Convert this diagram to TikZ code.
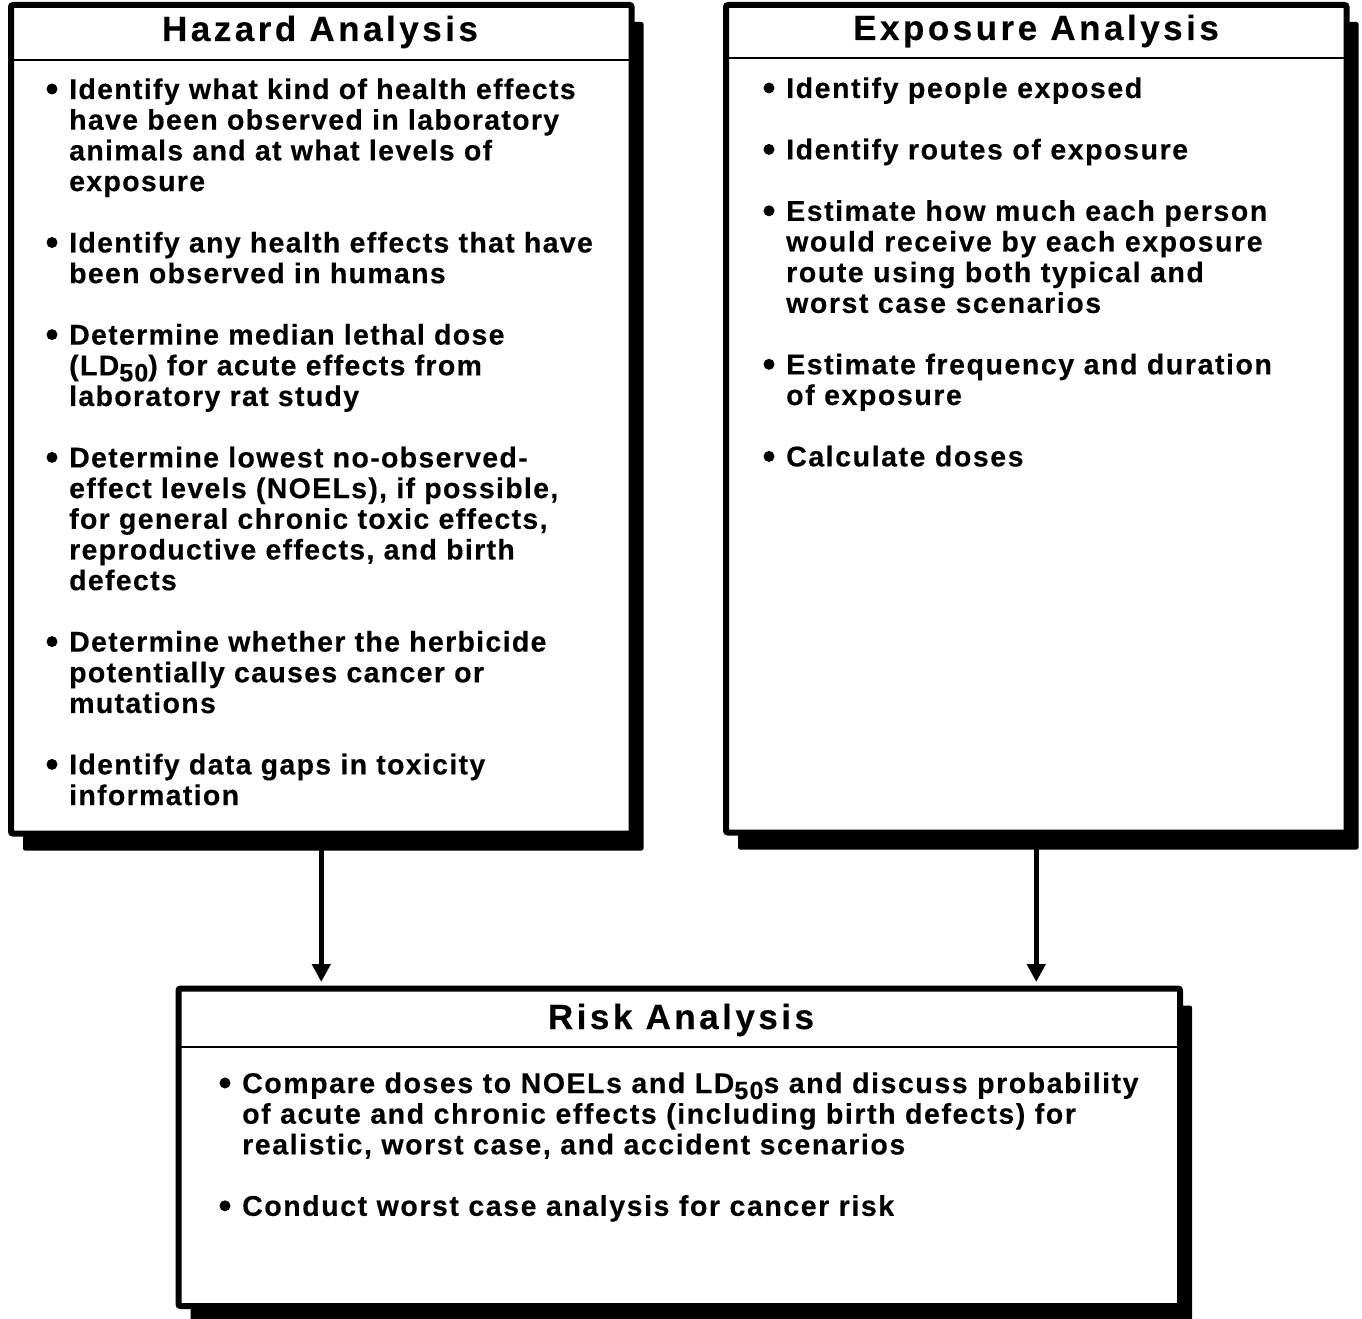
\documentclass[tikz,border=0pt]{standalone}
\usepackage{fontspec}
\setmainfont{Liberation Sans}
\newfontfamily\bodyfont[LetterSpace=5.5,FakeBold=0.3]{Liberation Sans Bold}
\newfontfamily\hazfont[LetterSpace=4.6,FakeBold=0.3]{Liberation Sans Bold}
\newfontfamily\titlefont[LetterSpace=10,FakeBold=0.3]{Liberation Sans Bold}
\usetikzlibrary{arrows.meta,shadows}
\newcommand\blines[1]{\vtop{\baselineskip=30.7pt\lineskiplimit=-100pt\lineskip=0pt\halign{##\hfil\cr#1\crcr}}}
\newcommand\subn[1]{\raisebox{-6pt}{\fontsize{25}{25}\selectfont #1}}
\tikzset{
  panel/.style={draw=black, line width=6pt, fill=white, rounded corners=2pt,
    drop shadow={shadow xshift=12pt, shadow yshift=-17pt, opacity=1, fill=black},
    inner sep=0pt, outer sep=0pt},
  sepline/.style={line width=2pt},
  ttl/.style={font=\titlefont\fontsize{35pt}{35pt}\selectfont, inner sep=0pt, anchor=base},
  body/.style={font=\bodyfont\fontsize{28.5pt}{30.7pt}\selectfont, inner sep=0pt, anchor=base west},
  hazbody/.style={body, font=\hazfont\fontsize{28.5pt}{30.7pt}\selectfont},
  arr/.style={line width=4.5pt, -{Triangle[width=18pt,length=18pt]}, shorten >=6.5pt},
  bulletdot/.style={fill=black}
}
\begin{document}
\begin{tikzpicture}[x=1pt,y=-1pt]
\useasboundingbox (0,0) rectangle (1362,1319);
% boxes
\node[panel, minimum width=620.5pt, minimum height=828.5pt] (haz) at (321.25,419.25) {};
\node[panel, minimum width=620.5pt, minimum height=827.5pt] (exp) at (1036.25,418.75) {};
\node[panel, minimum width=1001.5pt, minimum height=317.5pt] (risk) at (679.25,1147.25) {};
% separators
\draw[sepline] (haz.west |- 0,60) -- (haz.east |- 0,60);
\draw[sepline] (exp.west |- 0,58) -- (exp.east |- 0,58);
\draw[sepline] (risk.west |- 0,1047) -- (risk.east |- 0,1047);
% titles
\node[ttl] (hazt) at (320,41) {Hazard Analysis};
\node[ttl] (expt) at (1036,40) {Exposure Analysis};
\node[ttl] (riskt) at (681,1029) {Risk Analysis};
% body text
\node[hazbody] (hazb) at (69,99) {\blines{%
Identify what kind of health effects\cr
have been observed in laboratory\cr
animals and at what levels of\cr
exposure\cr
\cr
Identify any health effects that have\cr
been observed in humans\cr
\cr
Determine median lethal dose\cr
(LD\subn{50}) for acute effects from\cr
laboratory rat study\cr
\cr
Determine lowest no-observed-\cr
effect levels (NOELs), if possible,\cr
for general chronic toxic effects,\cr
reproductive effects, and birth\cr
defects\cr
\cr
Determine whether the herbicide\cr
potentially causes cancer or\cr
mutations\cr
\cr
Identify data gaps in toxicity\cr
information}};
\node[body] (expb) at (786,98) {\blines{%
Identify people exposed\cr
\cr
Identify routes of exposure\cr
\cr
Estimate how much each person\cr
would receive by each exposure\cr
route using both typical and\cr
worst case scenarios\cr
\cr
Estimate frequency and duration\cr
of exposure\cr
\cr
Calculate doses}};
\node[body] (riskb) at (242,1093) {\blines{%
Compare doses to NOELs and LD\subn{50}s and discuss probability\cr
of acute and chronic effects (including birth defects) for\cr
realistic, worst case, and accident scenarios\cr
\cr
Conduct worst case analysis for cancer risk}};
% bullets
\foreach \k in {0,5,8,12,18,22} \fill[bulletdot] (52,99+30.7*\k-10) circle (5.5);
\foreach \k in {0,2,4,9,12} \fill[bulletdot] (769,98+30.7*\k-10) circle (5.5);
\foreach \k in {0,4} \fill[bulletdot] (225,1093+30.7*\k-10) circle (5.5);
% arrows
\draw[arr] (haz.south) -- (haz.south |- risk.north);
\draw[arr] (exp.south) -- (exp.south |- risk.north);
\end{tikzpicture}
\end{document}
